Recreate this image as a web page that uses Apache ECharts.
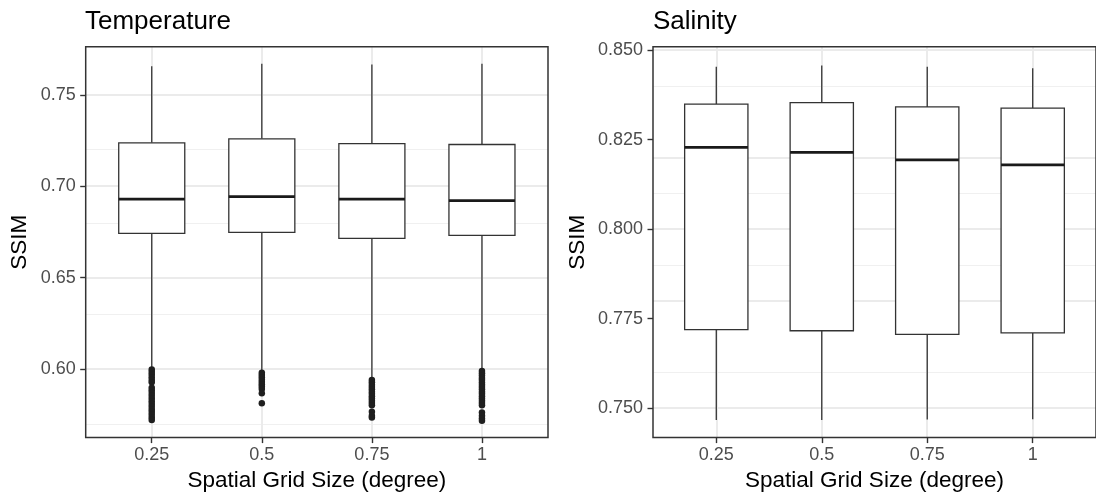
<!DOCTYPE html>
<html>
<head>
<meta charset="utf-8">
<script src="https://cdn.jsdelivr.net/npm/echarts@6/dist/echarts.min.js"></script>
<style>
html,body{margin:0;padding:0;background:#fff;}
#chart{width:1096px;height:497px;}
</style>
</head>
<body>
<div id="chart"></div>
<script>
// ---- data ----
const categories = ['0.25', '0.5', '0.75', '1'];

const tempLow    = [0.6010, 0.5995, 0.5955, 0.6005];
const tempQ1     = [0.6742, 0.6748, 0.6715, 0.6731];
const tempMedian = [0.6930, 0.6943, 0.6929, 0.6921];
const tempQ3     = [0.7237, 0.7259, 0.7233, 0.7228];
const tempHigh   = [0.7656, 0.7669, 0.7665, 0.7669];
const tempOutliers1 = [0.5998, 0.5985, 0.5970, 0.5955, 0.5940, 0.5928, 0.5898, 0.5885, 0.5870, 0.5855, 0.5840, 0.5825, 0.5810, 0.5795, 0.5780, 0.5765, 0.5750, 0.5735, 0.5722];
const tempOutliers2 = [0.5980, 0.5968, 0.5955, 0.5942, 0.5930, 0.5918, 0.5905, 0.5892, 0.5868, 0.5814];
const tempOutliers3 = [0.5940, 0.5928, 0.5915, 0.5902, 0.5890, 0.5877, 0.5865, 0.5852, 0.5840, 0.5827, 0.5815, 0.5803, 0.5767, 0.5745, 0.5735];
const tempOutliers4 = [0.5990, 0.5978, 0.5965, 0.5952, 0.5940, 0.5927, 0.5915, 0.5902, 0.5890, 0.5877, 0.5865, 0.5852, 0.5840, 0.5827, 0.5815, 0.5803, 0.5763, 0.5745, 0.5730, 0.5718];

const salLow    = [0.7467, 0.7467, 0.7468, 0.7469];
const salQ1     = [0.7719, 0.7716, 0.7706, 0.7710];
const salMedian = [0.8228, 0.8214, 0.8193, 0.8179];
const salQ3     = [0.8349, 0.8353, 0.8341, 0.8338];
const salHigh   = [0.8453, 0.8457, 0.8453, 0.8449];

const tempTicks = [0.60, 0.65, 0.70, 0.75];
const tempMinor = [0.575, 0.625, 0.675, 0.725, 0.775];
const salTicks  = [0.750, 0.775, 0.800, 0.825, 0.850];
const salMinor  = [0.7625, 0.7875, 0.8125, 0.8375];

// ---- build ----
const FONT = "'Liberation Sans', Arial, Helvetica, sans-serif";
const positions = categories.map((c, i) => i + 1);

function boxData(lo, q1, med, q3, hi) {
  return positions.map((p, i) => [p, lo[i], q1[i], med[i], q3[i], hi[i]]);
}
function outlierData(lists) {
  const out = [];
  lists.forEach((l, i) => l.forEach(v => out.push([positions[i], v])));
  return out;
}

function renderBox(params, api) {
  const x = api.value(0);
  const lo = api.coord([x, api.value(1)]);
  const q1 = api.coord([x, api.value(2)]);
  const med = api.coord([x, api.value(3)]);
  const q3 = api.coord([x, api.value(4)]);
  const hi = api.coord([x, api.value(5)]);
  const half = api.size([0.6, 0])[0] / 2;
  const stroke = '#333333';
  return {
    type: 'group',
    children: [
      {type: 'line', shape: {x1: lo[0], y1: lo[1], x2: q1[0], y2: q1[1]}, style: {stroke: stroke, lineWidth: 1.3}},
      {type: 'line', shape: {x1: q3[0], y1: q3[1], x2: hi[0], y2: hi[1]}, style: {stroke: stroke, lineWidth: 1.3}},
      {type: 'rect', shape: {x: q3[0] - half, y: q3[1], width: half * 2, height: q1[1] - q3[1]}, style: {fill: '#ffffff', stroke: stroke, lineWidth: 1.3}},
      {type: 'line', shape: {x1: med[0] - half, y1: med[1], x2: med[0] + half, y2: med[1]}, style: {stroke: '#1a1a1a', lineWidth: 2.8}}
    ]
  };
}

function gridLines(major, minor) {
  const d = [];
  minor.forEach(v => d.push({yAxis: v, lineStyle: {color: '#f0f0f0', width: 1, type: 'solid'}}));
  major.forEach(v => d.push({yAxis: v, lineStyle: {color: '#ebebeb', width: 2, type: 'solid'}}));
  positions.forEach(v => d.push({xAxis: v, lineStyle: {color: '#ebebeb', width: 2, type: 'solid'}}));
  return {
    z: 0, silent: true, symbol: 'none', animation: false,
    label: {show: false}, emphasis: {disabled: true},
    data: d
  };
}

function xAxisCfg(idx) {
  return {
    type: 'value', gridIndex: idx, min: 0.4, max: 4.6,
    axisLine: {show: false},
    splitLine: {show: false},
    axisTick: {show: true, customValues: positions, length: 5.5, lineStyle: {color: '#333333', width: 1.4}},
    axisLabel: {customValues: positions, margin: 8.5, color: '#4d4d4d', fontSize: 18, fontFamily: FONT,
      formatter: v => categories[Math.round(v) - 1]},
    name: 'Spatial Grid Size (degree)', nameLocation: 'middle', nameGap: 31,
    nameTextStyle: {color: '#000', fontSize: 22.5, fontFamily: FONT}
  };
}
function yAxisCfg(idx, min, max, ticks, digits, gap) {
  return {
    type: 'value', gridIndex: idx, min: min, max: max,
    axisLine: {show: false},
    splitLine: {show: false},
    axisTick: {show: true, customValues: ticks, length: 5.5, lineStyle: {color: '#333333', width: 1.4}},
    axisLabel: {customValues: ticks, margin: 10, color: '#4d4d4d', fontSize: 18, fontFamily: FONT,
      formatter: v => v.toFixed(digits)},
    name: 'SSIM', nameLocation: 'middle', nameGap: gap, nameRotate: 90,
    nameTextStyle: {color: '#000', fontSize: 22.5, fontFamily: FONT}
  };
}

const chart = echarts.init(document.getElementById('chart'), null, {renderer: 'canvas'});
chart.setOption({
  animation: false,
  backgroundColor: '#ffffff',
  title: [
    {text: 'Temperature', left: 85, top: 9, padding: 0, textStyle: {color: '#000', fontSize: 26, fontWeight: 'normal', fontFamily: FONT}},
    {text: 'Salinity', left: 653, top: 9, padding: 0, textStyle: {color: '#000', fontSize: 26, fontWeight: 'normal', fontFamily: FONT}}
  ],
  grid: [
    {left: 85.7, top: 46.7, width: 462.3, height: 392.8, show: true, z: 10, backgroundColor: 'transparent', borderColor: '#333333', borderWidth: 1.5},
    {left: 653, top: 46.7, width: 452, height: 392.8, show: true, z: 10, backgroundColor: 'transparent', borderColor: '#333333', borderWidth: 1.5}
  ],
  xAxis: [xAxisCfg(0), xAxisCfg(1)],
  yAxis: [
    yAxisCfg(0, 0.56257, 0.77628, tempTicks, 2, 54),
    yAxisCfg(1, 0.74175, 0.85093, salTicks, 3, 64)
  ],
  series: [
    {type: 'line', xAxisIndex: 0, yAxisIndex: 0, data: [], z: 0, markLine: gridLines(tempTicks, tempMinor)},
    {type: 'line', xAxisIndex: 1, yAxisIndex: 1, data: [], z: 0, markLine: gridLines(salTicks, salMinor)},
    {type: 'custom', xAxisIndex: 0, yAxisIndex: 0, z: 3, renderItem: renderBox,
      encode: {x: 0, y: [1, 2, 3, 4, 5]},
      data: boxData(tempLow, tempQ1, tempMedian, tempQ3, tempHigh)},
    {type: 'custom', xAxisIndex: 1, yAxisIndex: 1, z: 3, renderItem: renderBox,
      encode: {x: 0, y: [1, 2, 3, 4, 5]},
      data: boxData(salLow, salQ1, salMedian, salQ3, salHigh)},
    {type: 'scatter', xAxisIndex: 0, yAxisIndex: 0, z: 4, symbol: 'circle', symbolSize: 6.5,
      itemStyle: {color: '#1f1f1f', opacity: 1}, silent: true,
      data: outlierData([tempOutliers1, tempOutliers2, tempOutliers3, tempOutliers4])}
  ]
});
</script>
</body>
</html>
